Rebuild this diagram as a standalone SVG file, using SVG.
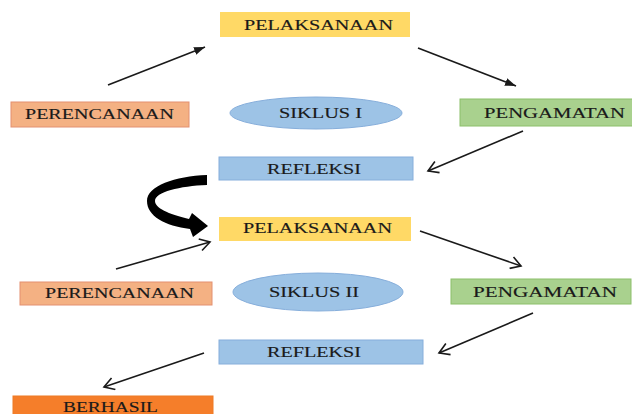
<svg xmlns="http://www.w3.org/2000/svg" width="632" height="414" viewBox="0 0 632 414">
<defs>
<style>
.t{font-family:"Liberation Serif","Times New Roman",serif;font-size:15px;fill:#1a1a1a;stroke:#1a1a1a;stroke-width:0.15;text-anchor:start}
.ln{stroke:#1a1a1a;stroke-width:1.6;fill:none}
.y{fill:#FFD966}
.s{fill:#F4B183;stroke:#E39070;stroke-width:1}
.g{fill:#A9D18E;stroke:#8CBF6B;stroke-width:1}
.b{fill:#9DC3E6;stroke:#86AEDB;stroke-width:1}
.o{fill:#F57E2A;stroke:#EE7A25;stroke-width:1}
</style>
<marker id="fa" markerUnits="userSpaceOnUse" markerWidth="12" markerHeight="10" refX="11" refY="5" orient="auto">
<path d="M0,1 L11,5 L0,9 Z" fill="#1a1a1a"/>
</marker>
<marker id="oa" markerUnits="userSpaceOnUse" markerWidth="13" markerHeight="14" refX="11" refY="7" orient="auto">
<path d="M1,1 L11,7 L1,13" fill="none" stroke="#1a1a1a" stroke-width="1.6"/>
</marker>
</defs>
<rect width="632" height="414" fill="#ffffff"/>
<g id="connectors">
<line class="ln" x1="108" y1="85" x2="205" y2="47" marker-end="url(#fa)"/>
<line class="ln" x1="418" y1="48" x2="516" y2="86" marker-end="url(#fa)"/>
<line class="ln" x1="523" y1="131" x2="428" y2="171" marker-end="url(#oa)"/>
<line class="ln" x1="116" y1="269" x2="210" y2="242" marker-end="url(#oa)"/>
<line class="ln" x1="420" y1="231" x2="521" y2="266" marker-end="url(#oa)"/>
<line class="ln" x1="533" y1="313" x2="439" y2="353" marker-end="url(#oa)"/>
<line class="ln" x1="204" y1="353" x2="104" y2="387" marker-end="url(#oa)"/>
<path d="M207,175 L207,185 C180,186 155,192 155,201 C155,208 168,214 189,219 L192,213 L208,226 L193,237 L190,229 C165,226 147,216 147,201 C147,186 175,176 207,175 Z" fill="#000000"/>
</g>
<g id="pelaksanaan1"><rect class="y" x="220" y="12" width="190" height="25"/><text class="t" x="244" y="30" textLength="149" lengthAdjust="spacingAndGlyphs">PELAKSANAAN</text></g>
<g id="perencanaan1"><rect class="s" x="11" y="102" width="178" height="25"/><text class="t" x="25" y="119" textLength="149" lengthAdjust="spacingAndGlyphs">PERENCANAAN</text></g>
<g id="siklus1"><ellipse class="b" cx="316" cy="113" rx="86" ry="16"/><text class="t" x="279" y="118" textLength="83" lengthAdjust="spacingAndGlyphs">SIKLUS I</text></g>
<g id="pengamatan1"><rect class="g" x="460" y="99" width="180" height="27"/><text class="t" x="484" y="118" textLength="141" lengthAdjust="spacingAndGlyphs">PENGAMATAN</text></g>
<g id="refleksi1"><rect class="b" x="219" y="157" width="194" height="23"/><text class="t" x="267" y="174" textLength="94" lengthAdjust="spacingAndGlyphs">REFLEKSI</text></g>
<g id="pelaksanaan2"><rect class="y" x="219" y="217" width="192" height="24"/><text class="t" x="243" y="233" textLength="149" lengthAdjust="spacingAndGlyphs">PELAKSANAAN</text></g>
<g id="perencanaan2"><rect class="s" x="20" y="282" width="192" height="23"/><text class="t" x="45" y="298" textLength="149" lengthAdjust="spacingAndGlyphs">PERENCANAAN</text></g>
<g id="siklus2"><ellipse class="b" cx="318" cy="292" rx="85" ry="19"/><text class="t" x="269" y="297" textLength="90" lengthAdjust="spacingAndGlyphs">SIKLUS II</text></g>
<g id="pengamatan2"><rect class="g" x="451" y="279" width="180" height="25"/><text class="t" x="473" y="297" textLength="144" lengthAdjust="spacingAndGlyphs">PENGAMATAN</text></g>
<g id="refleksi2"><rect class="b" x="219" y="340" width="204" height="24"/><text class="t" x="267" y="357" textLength="94" lengthAdjust="spacingAndGlyphs">REFLEKSI</text></g>
<g id="berhasil"><rect class="o" x="13" y="396" width="200" height="24"/><text class="t" x="63" y="412" textLength="95" lengthAdjust="spacingAndGlyphs">BERHASIL</text></g>
</svg>
